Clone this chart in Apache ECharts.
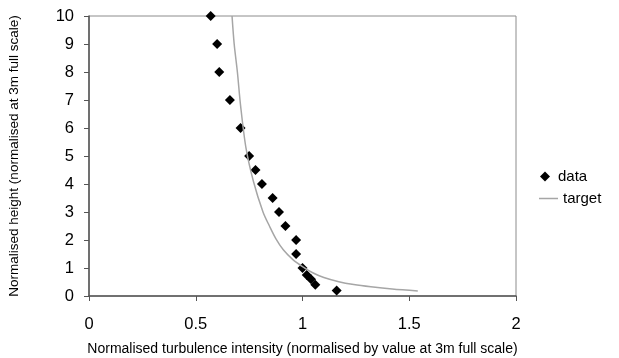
<!DOCTYPE html>
<html>
<head>
<meta charset="utf-8">
<script src="https://cdn.jsdelivr.net/npm/echarts@6/dist/echarts.min.js"></script>
<style>
  html, body { margin: 0; padding: 0; background: #fff; }
  #chart { width: 619px; height: 358px; }
</style>
</head>
<body>
<div id="chart"></div>
<script>
// measured points (turbulence intensity, height)
const dataX = [0.57, 0.6, 0.61, 0.66, 0.71, 0.75, 0.78, 0.81, 0.86, 0.89, 0.92, 0.97, 0.97, 1.0, 1.02, 1.04, 1.06, 1.16];
const dataY = [10, 9, 8, 7, 6, 5, 4.5, 4, 3.5, 3, 2.5, 2, 1.5, 1, 0.75, 0.6, 0.4, 0.2];

// target curve
const targetX = [0.67, 0.68, 0.695, 0.71, 0.735, 0.77, 0.815, 0.845, 0.875, 0.91, 0.955, 1.0, 1.05, 1.1, 1.17, 1.24, 1.32, 1.42, 1.54];
const targetY = [10, 9, 8, 6.8, 5.3, 4.1, 3.0, 2.5, 2.05, 1.65, 1.3, 1.05, 0.82, 0.66, 0.51, 0.41, 0.33, 0.25, 0.18];

const xTicks = [0, 0.5, 1, 1.5, 2];

const font = 'Liberation Sans, Arial, sans-serif';

let chart = echarts.init(document.getElementById('chart'));
let option = {
    animation: false,
    grid: {
        left: 89, top: 16, width: 427, height: 280,
        outerBoundsMode: 'none',
        show: true, borderColor: '#8c8c8c', borderWidth: 1
    },
    legend: [
        {
            left: 535, top: 164,
            itemWidth: 10, itemHeight: 10,
            textStyle: { fontFamily: font, fontSize: 15, color: '#000', padding: [0, 0, 0, 3] },
            data: [{ name: 'data', icon: 'diamond' }]
        },
        {
            left: 534, top: 186,
            itemWidth: 19, itemHeight: 1.5,
            textStyle: { fontFamily: font, fontSize: 15, color: '#000' },
            data: [{ name: 'target', icon: 'rect' }]
        }
    ],
    xAxis: {
        type: 'value',
        min: 0, max: 2, interval: 0.5,
        name: 'Normalised turbulence intensity (normalised by value at 3m full scale)',
        nameLocation: 'middle', nameGap: 46,
        nameTextStyle: { fontFamily: font, fontSize: 14, color: '#000' },
        axisLine: { lineStyle: { color: '#555', width: 1.5 } },
        axisTick: { show: true, length: 5, lineStyle: { color: '#555' } },
        axisLabel: { fontFamily: font, fontSize: 16.5, color: '#000', margin: 20,
            formatter: v => xTicks.includes(v) ? String(v) : '' },
        splitLine: { show: false }
    },
    yAxis: {
        type: 'value',
        min: 0, max: 10, interval: 1,
        name: 'Normalised height (normalised at 3m full scale)',
        nameLocation: 'middle', nameGap: 68,
        nameTextStyle: { fontFamily: font, fontSize: 13.5, color: '#000' },
        axisLine: { show: true, lineStyle: { color: '#555', width: 1.5 } },
        axisTick: { show: true, length: 5, lineStyle: { color: '#555' } },
        axisLabel: { fontFamily: font, fontSize: 16.5, color: '#000', margin: 15 },
        splitLine: { show: false }
    },
    series: [
        {
            name: 'data',
            type: 'scatter',
            symbol: 'diamond',
            symbolSize: 10,
            itemStyle: { color: '#000', opacity: 1 },
            data: dataX.map((x, i) => [x, dataY[i]])
        },
        {
            name: 'target',
            type: 'line',
            smooth: 0.3,
            symbol: 'none',
            lineStyle: { color: '#a6a6a6', width: 1.5 },
            itemStyle: { color: '#a6a6a6' },
            data: targetX.map((x, i) => [x, targetY[i]])
        }
    ]
};
chart.setOption(option);
</script>
</body>
</html>
